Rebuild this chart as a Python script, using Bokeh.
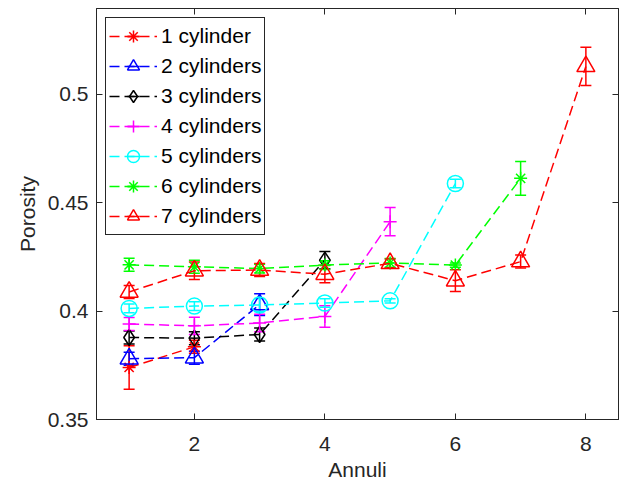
import math
from bokeh.plotting import figure
from bokeh.models import (ColumnDataSource, Whisker, TeeHead, Legend, LegendItem,
                          FixedTicker, CustomJSTickFormatter, LinearAxis, Range1d)
from bokeh.embed import file_html
from bokeh.resources import INLINE

# ---------------- data ----------------
labels = ["1 cylinder", "2 cylinders", "3 cylinders", "4 cylinders",
          "5 cylinders", "6 cylinders", "7 cylinders"]

x1 = [1, 2]
y1 = [0.3740, 0.3835]
e1 = [0.0100, 0.0030]

x2 = [1, 2, 3]
y2 = [0.3780, 0.3785, 0.4030]
e2 = [0.0030, 0.0030, 0.0050]

x3 = [1, 2, 3, 4]
y3 = [0.3878, 0.3875, 0.3892, 0.4235]
e3 = [0.0030, 0.0030, 0.0030, 0.0040]

x4 = [1, 2, 3, 4, 5]
y4 = [0.3940, 0.3932, 0.3945, 0.3975, 0.4412]
e4 = [0.0030, 0.0040, 0.0040, 0.0050, 0.0065]

x5 = [1, 2, 3, 4, 5, 6]
y5 = [0.4012, 0.4023, 0.4028, 0.4037, 0.4047, 0.4588]
e5 = [0.0020, 0.0020, 0.0030, 0.0020, 0.0010, 0.0020]

x6 = [1, 2, 3, 4, 5, 6, 7]
y6 = [0.4213, 0.4204, 0.4196, 0.4212, 0.4222, 0.4212, 0.4612]
e6 = [0.0030, 0.0030, 0.0020, 0.0020, 0.0020, 0.0010, 0.0078]

x7 = [1, 2, 3, 4, 5, 6, 7, 8]
y7 = [0.4088, 0.4186, 0.4189, 0.4170, 0.4220, 0.4140, 0.4228, 0.5128]
e7 = [0.0030, 0.0040, 0.0030, 0.0040, 0.0020, 0.0050, 0.0030, 0.0088]

x_ticks = [2, 4, 6, 8]
y_ticks = [0.35, 0.4, 0.45, 0.5]

series = [(x1, y1, e1), (x2, y2, e2), (x3, y3, e3), (x4, y4, e4),
          (x5, y5, e5), (x6, y6, e6), (x7, y7, e7)]

# ---------------- styles ----------------
colors = ["#FF0000", "#0000FF", "#000000", "#FF00FF", "#00FFFF", "#00FF00", "#FF0000"]
markers = ["asterisk", "triangle", "diamond", "cross", "circle", "asterisk", "triangle"]
msizes = [13, 18, 16, 13, 16, 13, 18]
FONT = "Liberation Sans"
AX = "#262626"

p = figure(frame_width=522, frame_height=411,
           x_range=Range1d(0.5, 8.5), y_range=Range1d(0.35, 0.5395),
           output_backend="svg", toolbar_location=None,
           min_border_left=96, min_border_top=8, min_border_right=6,
           min_border_bottom=40)
p.background_fill_color = "white"
p.border_fill_color = "white"
p.outline_line_color = AX
p.outline_line_width = 1
p.xgrid.visible = False
p.ygrid.visible = False

fmt = CustomJSTickFormatter(code="return String(Number(tick.toFixed(3)));")

p.xaxis.ticker = FixedTicker(ticks=x_ticks)
p.yaxis.ticker = FixedTicker(ticks=y_ticks)
p.yaxis.formatter = fmt
p.xaxis.axis_label = "Annuli"
p.yaxis.axis_label = "Porosity"
for ax in (p.xaxis[0], p.yaxis[0]):
    ax.axis_line_color = AX
    ax.axis_line_width = 1
    ax.major_tick_line_color = AX
    ax.major_tick_in = 6
    ax.major_tick_out = 0
    ax.minor_tick_in = 0
    ax.minor_tick_out = 0
    ax.major_label_text_font = FONT
    ax.major_label_text_font_size = "21px"
    ax.major_label_text_color = AX
    ax.axis_label_text_font = FONT
    ax.axis_label_text_font_size = "21px"
    ax.axis_label_text_font_style = "normal"
    ax.axis_label_text_color = AX
p.xaxis.major_label_standoff = 17
p.xaxis.axis_label_standoff = 4
p.yaxis.major_label_standoff = 8
p.yaxis.axis_label_standoff = 6

empty_fmt = CustomJSTickFormatter(code="return '';")
for loc, tk in (("above", x_ticks), ("right", y_ticks)):
    a = LinearAxis(ticker=FixedTicker(ticks=tk), formatter=empty_fmt,
                   axis_line_color=AX, major_tick_line_color=AX,
                   major_tick_in=6, major_tick_out=0, minor_tick_in=0, minor_tick_out=0,
                   major_label_text_font_size="0px", major_label_standoff=0)
    p.add_layout(a, loc)

items = []
for i, ((xs, ys, es), lab) in enumerate(zip(series, labels)):
    c = colors[i]
    src = ColumnDataSource(dict(x=xs, y=ys,
                                lo=[y - e for y, e in zip(ys, es)],
                                hi=[y + e for y, e in zip(ys, es)]))
    wh = Whisker(base="x", lower="lo", upper="hi", source=src, dimension="height",
                 line_color=c, line_width=1.5,
                 lower_head=TeeHead(size=11, line_color=c, line_width=1.5),
                 upper_head=TeeHead(size=11, line_color=c, line_width=1.5))
    p.add_layout(wh)
    ln = p.line("x", "y", source=src, line_color=c, line_width=1.5, line_dash="10 5")
    mk = p.scatter("x", "y", source=src, marker=markers[i], size=msizes[i],
                   line_color=c, line_width=1.5, fill_color=None)
    # legend-only vertical error-bar glyph
    lsrc = ColumnDataSource(dict(x=[float("nan")], y=[float("nan")]))
    eb = p.scatter("x", "y", source=lsrc, marker="dash", angle=math.pi / 2,
                   size=20, line_color=c, line_width=1.5)
    items.append(LegendItem(label=lab, renderers=[ln, mk, eb]))

leg = Legend(items=items, location="top_left", margin=9,
             label_text_font=FONT, label_text_font_size="21px", label_text_color="black",
             border_line_color=AX, border_line_width=1, border_line_alpha=1,
             background_fill_color="white", background_fill_alpha=1,
             padding=3, spacing=0, label_height=30, glyph_height=30, glyph_width=48,
             label_standoff=4)
p.add_layout(leg, "center")

open("out.html", "w").write(file_html(p, INLINE))
